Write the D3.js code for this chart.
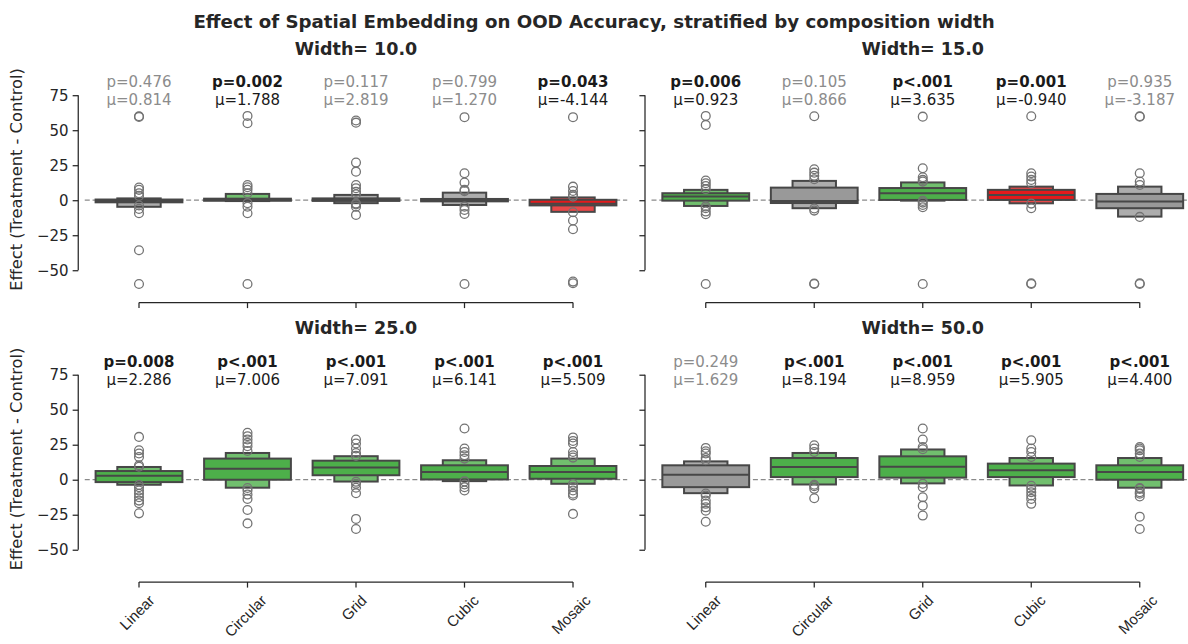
<!DOCTYPE html>
<html>
<head>
<meta charset="utf-8">
<script src="https://cdn.jsdelivr.net/npm/d3@7"></script>
<style>
  body { margin: 0; background: #fff; }
  svg { display: block; font-family: "DejaVu Sans", sans-serif; }
</style>
</head>
<body>
<svg id="chart" width="1188" height="644"></svg>
<script>
// Embedding layouts compared in every facet
const categories = ["Linear", "Circular", "Grid", "Cubic", "Mosaic"];
// Composition widths, one facet each
const widthLevels = [10, 15, 25, 50];

// Significance label per facet and layout
const pLabels = [
  ["0.476", "0.002", "0.117", "0.799", "0.043"],
  ["0.006", "0.105", "<.001", "0.001", "0.935"],
  ["0.008", "<.001", "<.001", "<.001", "<.001"],
  ["0.249", "<.001", "<.001", "<.001", "<.001"]
];
// Mean effect per facet and layout
const meanEffects = [
  [0.814, 1.788, 2.819, 1.270, -4.144],
  [0.923, 0.866, 3.635, -0.940, -3.187],
  [2.286, 7.006, 7.091, 6.141, 5.509],
  [1.629, 8.194, 8.959, 5.905, 4.400]
];
// Letter values: [lower eighth, Q1, median, Q3, upper eighth]
const letterValues = [
  [[-4.7, -1.5, -0.5, 0.5, 1.3], [-0.6, -0.4, 0.3, 1.1, 4.5], [-2.1, -0.5, 0.3, 1.3, 3.8], [-3.4, -0.8, 0.1, 0.9, 5.4], [-8.3, -3.7, -2.6, 0.3, 2.0]],
  [[-4.1, -0.3, 2.6, 5.0, 7.4], [-5.7, -2.0, -0.5, 9.0, 13.8], [-0.3, 0.2, 5.0, 8.7, 12.7], [-2.2, 0.2, 3.8, 7.4, 9.7], [-11.7, -5.7, -1.0, 4.5, 9.7]],
  [[-3.6, -1.7, 2.9, 6.2, 9.1], [-5.7, 0.0, 7.9, 15.1, 19.1], [-1.3, 3.2, 8.7, 13.6, 16.8], [-1.0, 0.2, 5.5, 10.3, 13.9], [-2.9, 0.7, 5.5, 9.8, 15.1]],
  [[-9.6, -5.3, 3.6, 10.3, 13.1], [-3.4, 1.9, 9.1, 15.5, 19.1], [-2.6, 1.5, 9.3, 16.7, 21.6], [-4.1, 1.9, 6.7, 11.5, 15.5], [-5.7, 0.0, 5.5, 10.3, 15.5]]
];
// Observations beyond the outermost letter values
const outliers = [
  [
    [60, 59.5, 9.0, 7.4, 5.0, 3.1, -3.8, -6.2, -9.3, -35.7, -59.8],
    [60.2, 55, 10.9, 9.3, 7.4, 5.0, -2.1, -4.6, -9.3, -59.8],
    [56.9, 55.4, 26.9, 20.4, 10.9, 8.6, 6.1, 4.3, -2.4, -3.0, -4.6, -10.5],
    [59.3, 19.3, 12.6, 7.4, 6.5, -4.6, -6.9, -9.8, -59.8],
    [59.3, 9.7, 6.6, 3.8, 2.6, -8.6, -14.5, -20.7, -58.1, -59.3]
  ],
  [
    [60.2, 53.8, 14, 12.1, 10.2, 7.9, -4.4, -5.7, -8.1, -10, -59.8],
    [60, 22.1, 19.7, 17.4, 15, -5.9, -7.4, -59.8, -59.5],
    [59.7, 22.8, 16.4, 14.5, 13.3, -0.5, -1.7, -3.4, -5, -59.8],
    [60, 19.3, 16.9, 14.5, 12.1, -2.4, -5.7, -59.8, -59.3],
    [60, 59.6, 19.3, 13.3, 10.9, -11.9, -59.8, -59.3]
  ],
  [
    [30.6, 21, 18.7, 16.2, 10.3, 9.3, -3.8, -5.3, -7.7, -10, -12.5, -14.9, -16.8, -24],
    [33.5, 31.1, 28.7, 26.3, 23.9, 20.5, -5.9, -7.7, -10.6, -13.7, -21.6, -31.2],
    [28.7, 25.9, 22.3, 19.1, 17.0, -1.5, -2.9, -5.7, -9.6, -28, -35.2],
    [36.6, 22.3, 19.8, 17.5, 15.1, -1.2, -3.4, -5.3, -7.7],
    [30.2, 27.7, 25.9, 19.8, 17.5, 15.8, -3.1, -5.3, -7.7, -10, -11.3, -24.4]
  ],
  [
    [22.7, 20.3, 18.7, 15.5, 13.9, -9.8, -11.3, -14.9, -17.2, -19.7, -22.1, -30],
    [24.6, 22.3, 19.8, -3.6, -4.6, -6.5, -13.2],
    [36.6, 28.7, 23.4, 21.8, -2.9, -5.3, -12.5, -18.5, -25.6],
    [28.2, 22.3, 19.8, 16.2, -4.3, -6.5, -8.9, -11.3, -13.7, -17.2],
    [23.4, 22.3, 21, 18.7, 16.2, -5.9, -6.5, -8.9, -10, -12, -26.4, -35.2]
  ]
];
const yTicks = [-50, -25, 0, 25, 50, 75];

// Layout
const panelLeft = [84.75, 651.5];
const panelTop = [63, 342.5];
const panelW = 542.5, panelH = 233;
const yDomain = [-68.4, 98];
const spineOffset = 6.5;
const tickLen = 5.6;

const ink = "#262626";
const lineColor = "#474747";
const fillColors = {
  up:   ["#4daf4a", "#71bf6e"],
  down: ["#e41a1c", "#e94849"],
  none: ["#999999", "#adadad"]
};

const svg = d3.select("#chart");

svg.append("text")
  .attr("x", 594).attr("y", 28)
  .attr("text-anchor", "middle")
  .attr("font-size", 18.2).attr("font-weight", "bold").attr("fill", ink)
  .text("Effect of Spatial Embedding on OOD Accuracy, stratified by composition width");

const isSignificant = p => p.startsWith("<") || parseFloat(p) < 0.05;

widthLevels.forEach((w, i) => {
  const col = i % 2, row = Math.floor(i / 2);
  const g = svg.append("g").attr("transform", `translate(${panelLeft[col]},${panelTop[row]})`);

  const x = d3.scaleBand().domain(categories).range([0, panelW]);
  const y = d3.scaleLinear().domain(yDomain).range([panelH, 0]);
  const bw = x.bandwidth();
  const cx = c => x(c) + bw / 2;

  // zero reference
  g.append("line")
    .attr("x1", 0).attr("x2", panelW)
    .attr("y1", y(0)).attr("y2", y(0))
    .attr("stroke", "#8a8a8a").attr("stroke-width", 1.2)
    .attr("stroke-dasharray", "5,2.8");

  // y axis, spine trimmed to the tick range
  const yAxis = g.append("g")
    .attr("transform", `translate(${-spineOffset},0)`)
    .call(d3.axisLeft(y).tickValues(yTicks).tickSize(tickLen).tickPadding(4)
      .tickFormat(col === 0 ? d3.format("d") : () => ""));
  yAxis.select(".domain").remove();
  yAxis.append("line")
    .attr("y1", y(d3.min(yTicks))).attr("y2", y(d3.max(yTicks)))
    .attr("stroke", ink).attr("stroke-width", 1.25);
  yAxis.selectAll(".tick line").attr("stroke", ink).attr("stroke-width", 1.25);
  yAxis.selectAll(".tick text").attr("fill", ink).attr("font-size", 15)
    .attr("font-family", "DejaVu Sans");

  // x axis, spine trimmed to first/last category
  const xAxis = g.append("g")
    .attr("transform", `translate(0,${panelH + spineOffset})`)
    .call(d3.axisBottom(x).tickSize(tickLen).tickFormat(""));
  xAxis.select(".domain").remove();
  xAxis.append("line")
    .attr("x1", cx(categories[0])).attr("x2", cx(categories[categories.length - 1]))
    .attr("stroke", ink).attr("stroke-width", 1.25);
  xAxis.selectAll(".tick line").attr("stroke", ink).attr("stroke-width", 1.25);
  xAxis.selectAll(".tick text").remove();

  if (row === 1) {
    categories.forEach(c => {
      const t = xAxis.append("text")
        .attr("font-size", 15).attr("fill", ink)
        .attr("text-anchor", "middle").attr("dy", "0.35em")
        .text(c);
      const len = t.node().getComputedTextLength();
      const half = (len + 15 * 1.164) / Math.SQRT2 / 2;
      t.attr("transform", `translate(${cx(c) - 2},${tickLen + 4 + half}) rotate(-45)`);
    });
  }

  // facet title
  g.append("text")
    .attr("x", panelW / 2).attr("y", -8.5)
    .attr("text-anchor", "middle")
    .attr("font-size", 17.5).attr("font-weight", "bold").attr("fill", ink)
    .text(`Width= ${w.toFixed(1)}`);

  if (col === 0) {
    svg.append("text")
      .attr("transform", `translate(21.5,${panelTop[row] + panelH / 2}) rotate(-90)`)
      .attr("text-anchor", "middle")
      .attr("font-size", 16.3).attr("fill", ink)
      .text("Effect (Treatment - Control)");
  }

  categories.forEach((c, j) => {
    const [lo, q1, med, q3, hi] = letterValues[i][j];
    const p = pLabels[i][j], m = meanEffects[i][j];
    const sig = isSignificant(p);
    const colors = sig ? (m > 0 ? fillColors.up : fillColors.down) : fillColors.none;
    const xc = cx(c);

    // outer letter-value box
    g.append("rect")
      .attr("x", xc - 0.2 * bw).attr("width", 0.4 * bw)
      .attr("y", y(hi)).attr("height", y(lo) - y(hi))
      .attr("fill", colors[1]).attr("stroke", lineColor).attr("stroke-width", 2);
    // interquartile box
    g.append("rect")
      .attr("x", xc - 0.4 * bw).attr("width", 0.8 * bw)
      .attr("y", y(q3)).attr("height", y(q1) - y(q3))
      .attr("fill", colors[0]).attr("stroke", lineColor).attr("stroke-width", 2);
    // median
    g.append("line")
      .attr("x1", xc - 0.4 * bw).attr("x2", xc + 0.4 * bw)
      .attr("y1", y(med)).attr("y2", y(med))
      .attr("stroke", lineColor).attr("stroke-width", 2);

    g.selectAll(null).data(outliers[i][j]).join("circle")
      .attr("cx", xc).attr("cy", d => y(d)).attr("r", 4.4)
      .attr("fill", "none").attr("stroke", "#737373").attr("stroke-width", 1.3);

    const txtColor = sig ? "#1a1a1a" : "#8c8c8c";
    g.append("text")
      .attr("x", xc).attr("y", 24.3)
      .attr("text-anchor", "middle").attr("font-size", 15)
      .attr("font-weight", sig ? "bold" : "normal").attr("fill", txtColor)
      .text(p.startsWith("<") ? `p${p}` : `p=${p}`);
    g.append("text")
      .attr("x", xc).attr("y", 42)
      .attr("text-anchor", "middle").attr("font-size", 15)
      .attr("fill", txtColor)
      .text(`μ=${m.toFixed(3)}`);
  });
});
</script>
</body>
</html>
